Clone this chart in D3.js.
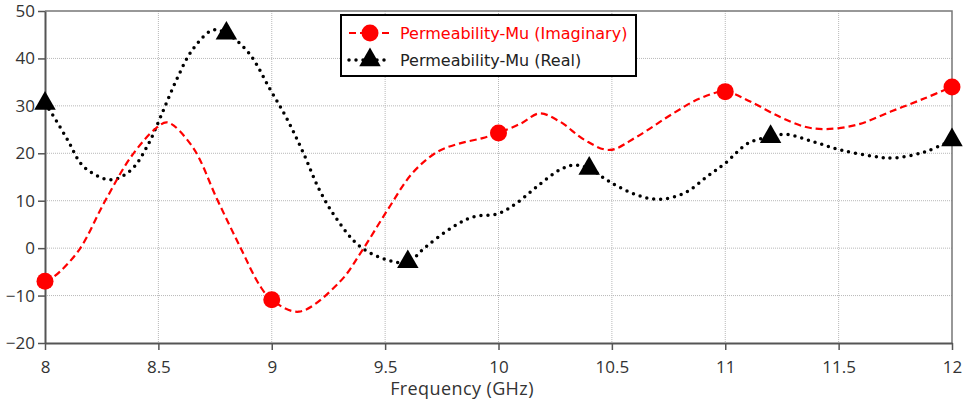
<!DOCTYPE html>
<html>
<head>
<meta charset="utf-8">
<script src="https://cdn.jsdelivr.net/npm/d3@7"></script>
<style>
  body { margin: 0; background: #fff; }
  #chart { width: 964px; height: 407px; }
  .tick text { fill: #333; }
</style>
</head>
<body>
<div id="chart"></div>
<script>
// Permeability-Mu (Imaginary) - curve
var imagFreq = [8.00, 8.04, 8.15, 8.26, 8.38, 8.49, 8.54, 8.65, 8.76, 8.86, 8.95, 9.00, 9.12, 9.30, 9.40, 9.51, 9.62, 9.73, 9.83, 9.93,
    10.00, 10.10, 10.18, 10.27, 10.38, 10.49, 10.61, 10.77, 10.89, 11.00, 11.11, 11.24, 11.35, 11.44, 11.58, 11.73, 11.88, 12.00];
var imagVal = [-7.0, -6.0, -0.4, 9.5, 19.3, 25.3, 26.5, 21.4, 10.2, 0.3, -8.1, -10.9, -13.4, -7.1, -0.4, 8.0, 15.8, 20.3, 22.1, 23.2,
    24.3, 26.3, 28.4, 26.7, 22.8, 20.7, 23.5, 28.4, 31.6, 33.0, 30.9, 27.7, 25.6, 25.1, 26.0, 28.8, 31.6, 34.0];
var imagMarkFreq = [8, 9, 10, 11, 12];
var imagMarkVal = [-7.0, -10.9, 24.3, 33.0, 34.0];

// Permeability-Mu (Real)
var realFreq = [8.00, 8.03, 8.10, 8.17, 8.29, 8.38, 8.45, 8.51, 8.58, 8.65, 8.74, 8.80, 8.90, 8.99, 9.07, 9.14, 9.21, 9.29, 9.39, 9.51,
    9.60, 9.68, 9.80, 9.89, 10.00, 10.08, 10.17, 10.27, 10.33, 10.40, 10.49, 10.61, 10.71, 10.82, 10.92, 11.00, 11.10, 11.20, 11.27,
    11.39, 11.51, 11.66, 11.74, 11.88, 12.00];
var realVal = [30.5, 28.4, 22.8, 17.2, 14.4, 16.5, 21.4, 27.7, 35.5, 41.8, 46.0, 45.3, 41.1, 33.7, 27.0, 20.0, 12.3, 5.9, 0.3, -2.5,
    -2.9, 0.3, 4.5, 6.6, 7.3, 9.5, 13.0, 16.5, 17.5, 16.8, 14.0, 11.2, 10.3, 11.6, 15.1, 17.9, 22.1, 23.5, 24.0,
    22.4, 20.7, 19.3, 19.0, 20.3, 22.8];
var realMarkFreq = [8, 8.8, 9.6, 10.4, 11.2, 12];
var realMarkVal = [30.5, 45.3, -2.9, 16.8, 23.5, 22.8];

var xTicks = [8, 8.5, 9, 9.5, 10, 10.5, 11, 11.5, 12];
var yTicks = [-20, -10, 0, 10, 20, 30, 40, 50];
var legendLabels = ["Permeability-Mu (Imaginary)", "Permeability-Mu (Real)"];

var pLeft = 45, pRight = 952, pTop = 11, pBottom = 343;

var svg = d3.select("#chart").append("svg")
    .attr("width", 964)
    .attr("height", 407);

var x = d3.scaleLinear().domain([8, 12]).range([pLeft, pRight]);
var y = d3.scaleLinear().domain([-20, 50]).range([pBottom, pTop]);

// grid
svg.append("g").selectAll("line")
    .data(xTicks.slice(1, -1))
    .enter().append("line")
    .attr("x1", d => x(d)).attr("x2", d => x(d))
    .attr("y1", pTop).attr("y2", pBottom)
    .attr("stroke", "#b8b8b8").attr("stroke-width", 1).attr("stroke-dasharray", "1,1");
svg.append("g").selectAll("line")
    .data(yTicks.slice(1, -1))
    .enter().append("line")
    .attr("x1", pLeft).attr("x2", pRight)
    .attr("y1", d => y(d)).attr("y2", d => y(d))
    .attr("stroke", "#b8b8b8").attr("stroke-width", 1).attr("stroke-dasharray", "1,1");

// frame top / right
svg.append("path")
    .attr("d", "M" + pLeft + "," + pTop + "H" + pRight + "V" + pBottom)
    .attr("fill", "none").attr("stroke", "#777").attr("stroke-width", 1.5);

// axes
var xAxis = svg.append("g")
    .attr("transform", "translate(0," + pBottom + ")")
    .call(d3.axisBottom(x).tickValues(xTicks).tickFormat(d3.format("")).tickSizeInner(7).tickSizeOuter(0));
var yAxis = svg.append("g")
    .attr("transform", "translate(" + pLeft + ",0)")
    .call(d3.axisLeft(y).tickValues(yTicks).tickSizeInner(7).tickSizeOuter(0));

[xAxis, yAxis].forEach(function (a) {
    a.select(".domain").attr("stroke", "#555").attr("stroke-width", 2);
    a.selectAll(".tick line").attr("stroke", "#555").attr("stroke-width", 1.5);
    a.selectAll(".tick text")
        .style("font-family", "'Open Sans', sans-serif")
        .style("font-size", "17px");
});
xAxis.selectAll(".tick text").attr("y", 30).attr("dy", 0);
yAxis.selectAll(".tick text").attr("x", -10);

svg.append("text")
    .attr("x", 462)
    .attr("y", 395)
    .attr("text-anchor", "middle")
    .style("font-family", "'Open Sans', sans-serif")
    .style("font-size", "18px")
    .style("letter-spacing", "0.4px")
    .style("fill", "#333")
    .text("Frequency (GHz)");

var line = d3.line()
    .x(d => x(d[0]))
    .y(d => y(d[1]))
    .curve(d3.curveCatmullRom);

svg.append("path")
    .datum(d3.zip(realFreq, realVal))
    .attr("d", line)
    .attr("fill", "none")
    .attr("stroke", "#000")
    .attr("stroke-width", 3.5)
    .attr("stroke-linecap", "round")
    .attr("stroke-dasharray", "0,7");

svg.append("path")
    .datum(d3.zip(imagFreq, imagVal))
    .attr("d", line)
    .attr("fill", "none")
    .attr("stroke", "#ff0000")
    .attr("stroke-width", 2.2)
    .attr("stroke-dasharray", "7,4");

var tri = d3.symbol().type(d3.symbolTriangle).size(200);

svg.append("g").selectAll("path")
    .data(d3.zip(realMarkFreq, realMarkVal))
    .enter().append("path")
    .attr("d", tri)
    .attr("transform", d => "translate(" + x(d[0]) + "," + y(d[1]) + ")")
    .attr("fill", "#000");

svg.append("g").selectAll("circle")
    .data(d3.zip(imagMarkFreq, imagMarkVal))
    .enter().append("circle")
    .attr("cx", d => x(d[0]))
    .attr("cy", d => y(d[1]))
    .attr("r", 8.5)
    .attr("fill", "#ff0000");

// legend
var lg = svg.append("g");
lg.append("rect")
    .attr("x", 341).attr("y", 15).attr("width", 295).attr("height", 61)
    .attr("fill", "#fff").attr("stroke", "#000").attr("stroke-width", 2);
var rows = [
    { label: legendLabels[0], color: "#ff0000" },
    { label: legendLabels[1], color: "#000" }
];
rows.forEach(function (r, i) {
    var cy = 33 + i * 27;
    if (i === 0) {
        lg.append("line").attr("x1", 349).attr("x2", 391).attr("y1", cy).attr("y2", cy)
            .attr("stroke", r.color).attr("stroke-width", 2.2).attr("stroke-dasharray", "7,4");
        lg.append("circle").attr("cx", 370).attr("cy", cy).attr("r", 8.5).attr("fill", r.color);
    } else {
        lg.append("line").attr("x1", 349).attr("x2", 391).attr("y1", cy).attr("y2", cy)
            .attr("stroke", r.color).attr("stroke-width", 3.5).attr("stroke-linecap", "round").attr("stroke-dasharray", "0,7");
        lg.append("path").attr("d", tri).attr("transform", "translate(370," + cy + ")").attr("fill", r.color);
    }
    lg.append("text")
        .attr("x", 400).attr("y", cy)
        .attr("dy", "0.36em")
        .style("font-family", "'DejaVu Sans', Verdana, sans-serif")
        .style("font-size", "16px")
        .style("fill", i === 0 ? "#ff0000" : "#222")
        .text(r.label);
});
</script>
</body>
</html>
